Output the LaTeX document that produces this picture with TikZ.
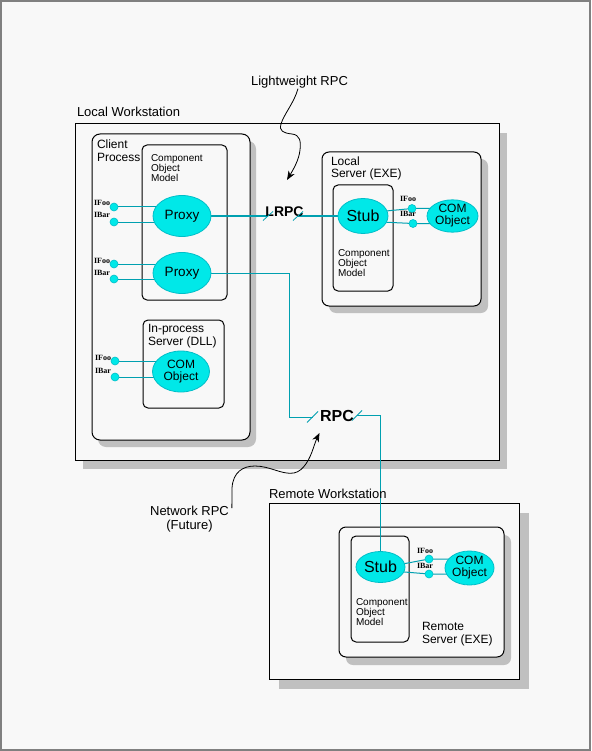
\documentclass[tikz,border=0pt]{standalone}
\usepackage{fontspec}
\setmainfont{Liberation Sans}
\newfontfamily\ifacefont{Liberation Serif}
\usetikzlibrary{shapes.geometric,calc,arrows.meta}

\definecolor{paper}{HTML}{F8F8F8}
\definecolor{framegray}{HTML}{808080}
\definecolor{shadowgray}{HTML}{C0C0C0}
\definecolor{objfill}{RGB}{0,232,232}
\definecolor{objedge}{RGB}{0,190,200}
\definecolor{wire}{RGB}{0,160,176}

\pgfdeclarelayer{back}
\pgfdeclarelayer{wires}
\pgfsetlayers{back,wires,main}

\newcommand\px[2]{\fontsize{#1}{#2}\selectfont}

\tikzset{
  every node/.style={inner sep=0pt, outer sep=0pt},
  container/.style={draw=black, line width=1pt, fill=paper},
  dropshadow/.style={fill=shadowgray},
  obj/.style={ellipse, draw=objedge, fill=objfill, line width=0.8pt, align=center},
  port/.style={circle, draw=objedge, fill=objfill, minimum size=8pt, line width=0.6pt},
  portlbl/.style={font=\ifacefont\bfseries\px{8}{8}, anchor=base east},
  wireline/.style={draw=wire, line width=1pt},
  tickmark/.style={draw=wire, line width=0.8pt},
  heading/.style={font=\px{13}{13}, anchor=base west},
  boxlbl/.style={font=\px{12}{13}, align=left, anchor=north west},
  comlbl/.style={font=\px{10}{10}, align=left, anchor=north west},
  pointer/.style={draw=black, line width=0.8pt, -{Stealth[length=9pt,width=7pt]}},
}

\begin{document}
\begin{tikzpicture}[x=1pt, y=-1pt]
\useasboundingbox (0,0) rectangle (591,751);

% ---------- page and containers ----------
\begin{pgfonlayer}{back}
  \fill[paper] (0,0) rectangle (591,751);
  \draw[framegray, line width=2pt] (1,1) rectangle (590,750);
  % local workstation
  \path[dropshadow] (83,133) rectangle (507,469);
  \draw[container] (75,124) rectangle (499,460);
  % client process
  \path[dropshadow, rounded corners=8pt] (98,141) rectangle (256,447);
  \draw[container, rounded corners=8pt] (92,134) rectangle (250,440);
  \draw[container, rounded corners=5pt] (142,145) rectangle (227,300);
  \draw[container, rounded corners=5pt] (143,320) rectangle (224,408);
  % local server
  \path[dropshadow, rounded corners=7pt] (329,159) rectangle (488,313);
  \draw[container, rounded corners=7pt] (322,152) rectangle (481,306);
  \draw[container, rounded corners=5pt] (333,185) rectangle (393,291);
  % remote workstation
  \path[dropshadow] (279,513) rectangle (529,689);
  \draw[container] (269,503) rectangle (519,679);
  \path[dropshadow, rounded corners=7pt] (346,535) rectangle (511,665);
  \draw[container, rounded corners=7pt] (339,527) rectangle (504,657);
  \draw[container, rounded corners=5pt] (351,536) rectangle (409,642);
\end{pgfonlayer}

% ---------- labels ----------
\node[heading] (lws) at (77,117) {Local Workstation};
\node[heading] (rws) at (269,498) {Remote Workstation};
\node[font=\px{13}{13}, anchor=base] (lwt) at (299.5,86) {Lightweight RPC};
\node[font=\px{13}{14}, align=center, anchor=north] (net) at (189.5,506.5) {Network RPC\\(Future)};

\node[boxlbl] (cpl) at (97,140) {Client\\Process};
\node[comlbl] (cm1) at (151,155) {Component\\Object\\Model};
\node[boxlbl] (ipl) at (148,324.5) {In-process\\Server (DLL)};
\node[boxlbl, font=\px{12}{12}] (lsl) at (331,157) {Local\\Server (EXE)};
\node[comlbl] (cm2) at (338,250) {Component\\Object\\Model};
\node[boxlbl] (rsl) at (422,622) {Remote\\Server (EXE)};
\node[comlbl] (cm3) at (356,599) {Component\\Object\\Model};

% ---------- objects ----------
\node[obj, minimum width=58pt, minimum height=41pt, font=\px{13.5}{14}] (proxy1) at (182,216) {Proxy};
\node[obj, minimum width=58pt, minimum height=41pt, font=\px{13.5}{14}] (proxy2) at (182,273) {Proxy};
\node[obj, minimum width=57pt, minimum height=41pt, font=\px{12}{12}] (dllcom) at (181,371.5) {COM\\Object};
\node[obj, minimum width=50pt, minimum height=35pt, font=\px{16}{16}] (stub) at (363,216) {Stub};
\node[obj, minimum width=51pt, minimum height=32pt, font=\px{12}{12}] (lcom) at (452.5,216) {COM\\Object};
\node[obj, minimum width=49pt, minimum height=31pt, font=\px{16}{16}] (rstub) at (380.5,567) {Stub};
\node[obj, minimum width=49pt, minimum height=34pt, font=\px{12}{12}] (rcom) at (469.5,568) {COM\\Object};

% ---------- interface ports ----------
\node[port] (p1a) at (114,207) {};
\node[port] (p1b) at (114,222) {};
\node[port] (p2a) at (114,264) {};
\node[port] (p2b) at (114,279) {};
\node[port] (p3a) at (115,361) {};
\node[port] (p3b) at (115,377) {};
\node[port] (lpa) at (412,208.5) {};
\node[port] (lpb) at (413,223.5) {};
\node[port] (rpa) at (429,559) {};
\node[port] (rpb) at (429,574) {};

\node[portlbl] (l1a) at ($(p1a.west)+(0,-1)$) {IFoo};
\node[portlbl] (l1b) at ($(p1b.west)+(0,-4)$) {IBar};
\node[portlbl] (l2a) at ($(p2a.west)+(0,-1)$) {IFoo};
\node[portlbl] (l2b) at ($(p2b.west)+(0,-4)$) {IBar};
\node[portlbl] (l3a) at ($(p3a.west)+(0,-1)$) {IFoo};
\node[portlbl] (l3b) at ($(p3b.west)+(0,-4)$) {IBar};
\node[portlbl] (lla) at ($(lpa)+(4,-6.5)$) {IFoo};
\node[portlbl] (llb) at ($(lpb)+(3,-6.5)$) {IBar};
\node[portlbl] (lra) at ($(rpa)+(4,-6)$) {IFoo};
\node[portlbl] (lrb) at ($(rpb)+(4,-6)$) {IBar};

% ---------- RPC channels ----------
\node[font=\bfseries\px{14}{14}, anchor=base] (lrpc) at (284.5,217) {LRPC};
\node[font=\bfseries\px{16}{16}, anchor=base] (rpc) at (337,421) {RPC};
\coordinate (lrpcL) at (268,216);
\coordinate (lrpcR) at (298,216);
\coordinate (rpcL) at (312.5,417);
\coordinate (rpcR) at (357,415.5);
\coordinate (rpcBend) at (289,417);

\begin{pgfonlayer}{wires}
  \draw[wireline] (p1a) -- (p1a -| proxy1);
  \draw[wireline] (p1b) -- (p1b -| proxy1);
  \draw[wireline] (p2a) -- (p2a -| proxy2);
  \draw[wireline] (p2b) -- (p2b -| proxy2);
  \draw[wireline] (p3a) -- (p3a -| dllcom);
  \draw[wireline] (p3b) -- (p3b -| dllcom);
  \draw[wireline] (proxy1) -- (proxy1 -| lrpcL);
  \draw[wireline] (lrpcR) -- (lrpcR -| stub);
  \draw[wireline] (stub.12) -- (lpa) -- (lpa -| lcom);
  \draw[wireline] (stub.-15) -- (lpb) -- (lpb -| lcom);
  \draw[wireline] (proxy2) -| (rpcBend) -- (rpcL);
  \draw[wireline] (rpcR) -| (rstub);
  \draw[wireline] (rstub.8) -- (rpa) -- (rpa -| rcom);
  \draw[wireline] (rstub.-12) -- (rpb) -- (rpb -| rcom);
\end{pgfonlayer}

\draw[tickmark] ($(lrpcL)+(-5,4.5)$) -- ($(lrpcL)+(5,-4.5)$);
\draw[tickmark] ($(lrpcR)+(-5,4.5)$) -- ($(lrpcR)+(5,-4.5)$);
\draw[tickmark] ($(rpcL)+(-5.5,5.5)$) -- ($(rpcL)+(5.5,-5.5)$);
\draw[tickmark] ($(rpcR)+(-5,5)$) -- ($(rpcR)+(5,-5)$);

% ---------- callout pointers ----------
\coordinate (lwtHead) at (287,180);
\coordinate (netHead) at (319.5,433);
\draw[pointer] ([xshift=-1.5pt]lwt.south)
  .. controls (294,103) and (284,114) .. (281,124)
  .. controls (279,131) and (283,133) .. (292,134)
  .. controls (300,135) and (301,141) .. (300,150)
  .. controls (299,160) and (293,170) .. (lwtHead);
\draw[pointer] ([xshift=3pt,yshift=-1.5pt]net.north east) -- (232,488)
  .. controls (233,472) and (243,466) .. (255,466)
  .. controls (270,466) and (282,475) .. (294,473)
  .. controls (304,471) and (310,458) .. (313,449)
  .. controls (315,443) and (317,438) .. (netHead);
\end{tikzpicture}
\end{document}
